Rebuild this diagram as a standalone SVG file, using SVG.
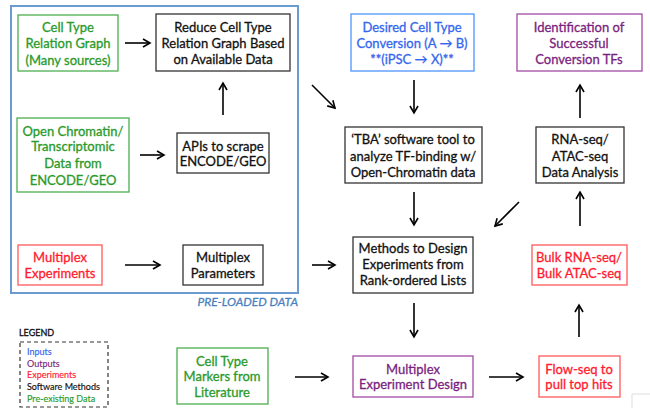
<svg xmlns="http://www.w3.org/2000/svg" width="650" height="408" viewBox="0 0 650 408">
  <style>
    .box { fill: #ffffff; stroke-width: 1.3; }
    .sw { stroke: #333333; }
    .pre { stroke: #4caf50; }
    .inp { stroke: #4d94ff; }
    .out { stroke: #a14aa6; }
    .exp { stroke: #ff5a5a; }
    text { font-family: Lato, "Open Sans", "Liberation Sans", sans-serif; font-size: 13px; text-anchor: middle; stroke-width: 0.3; }
    .tsw { fill: #111111; stroke: #111111; }
    .tpre { fill: #2a9a2a; stroke: #2a9a2a; }
    .tinp { fill: #3366ee; stroke: #3366ee; }
    .tout { fill: #7a1f80; stroke: #7a1f80; }
    .texp { fill: #ff1a2e; stroke: #ff1a2e; }
    .leg { font-size: 9px; text-anchor: start; stroke-width: 0.15; }
    .conn line { stroke: #000000; stroke-width: 1.6; marker-end: url(#ah); }
  </style>
  <defs>
    <marker id="ah" markerWidth="10" markerHeight="10" refX="8" refY="5" orient="auto" markerUnits="userSpaceOnUse">
      <path d="M1,1 L8,5 L1,9" fill="none" stroke="#000000" stroke-width="1.6"/>
    </marker>
  </defs>

  <rect width="650" height="408" fill="#ffffff"/>

  <!-- pre-loaded data container -->
  <g id="preloaded">
    <rect x="11" y="6" width="287" height="287" fill="none" stroke="#6b9bd1" stroke-width="2"/>
    <text x="298" y="306" style="font-size:12px;font-style:italic;text-anchor:end;fill:#4a7fc0;stroke:#4a7fc0">PRE-LOADED DATA</text>
  </g>

  <g id="cell-type-graph">
    <rect class="box pre" x="18" y="15" width="100" height="56"/>
    <text class="tpre" x="68" y="32">Cell Type</text>
    <text class="tpre" x="68" y="48">Relation Graph</text>
    <text class="tpre" x="68" y="65">(Many sources)</text>
  </g>

  <g id="reduce-graph">
    <rect class="box sw" x="156" y="14" width="134" height="57"/>
    <text class="tsw" x="223" y="32">Reduce Cell Type</text>
    <text class="tsw" x="223" y="48">Relation Graph Based</text>
    <text class="tsw" x="223" y="64">on Available Data</text>
  </g>

  <g id="open-chromatin">
    <rect class="box pre" x="17" y="118" width="112" height="74"/>
    <text class="tpre" x="73" y="136">Open Chromatin/</text>
    <text class="tpre" x="73" y="151">Transcriptomic</text>
    <text class="tpre" x="73" y="168">Data from</text>
    <text class="tpre" x="73" y="185">ENCODE/GEO</text>
  </g>

  <g id="apis">
    <rect class="box sw" x="177" y="133" width="92" height="40"/>
    <text class="tsw" x="223" y="151">APIs to scrape</text>
    <text class="tsw" x="223" y="166">ENCODE/GEO</text>
  </g>

  <g id="multiplex-experiments">
    <rect class="box exp" x="18" y="245" width="84" height="40"/>
    <text class="texp" x="60" y="262">Multiplex</text>
    <text class="texp" x="60" y="278">Experiments</text>
  </g>

  <g id="multiplex-parameters">
    <rect class="box sw" x="183" y="245" width="80" height="40"/>
    <text class="tsw" x="223" y="262">Multiplex</text>
    <text class="tsw" x="223" y="278">Parameters</text>
  </g>

  <g id="desired-conversion">
    <rect class="box inp" x="351" y="14" width="123" height="57"/>
    <text class="tinp" x="412" y="32">Desired Cell Type</text>
    <text class="tinp" x="412" y="48">Conversion (A → B)</text>
    <text class="tinp" x="412" y="64">**(iPSC → X)**</text>
  </g>

  <g id="identification">
    <rect class="box out" x="517" y="14" width="125" height="57"/>
    <text class="tout" x="579" y="32">Identification of</text>
    <text class="tout" x="579" y="48">Successful</text>
    <text class="tout" x="579" y="64">Conversion TFs</text>
  </g>

  <g id="tba">
    <rect class="box sw" x="345" y="127" width="137" height="56"/>
    <text class="tsw" x="413" y="144">‘TBA’ software tool to</text>
    <text class="tsw" x="413" y="161">analyze TF-binding w/</text>
    <text class="tsw" x="413" y="177">Open-Chromatin data</text>
  </g>

  <g id="rnaseq-analysis">
    <rect class="box sw" x="536" y="127" width="88" height="56"/>
    <text class="tsw" x="580" y="144">RNA-seq/</text>
    <text class="tsw" x="580" y="161">ATAC-seq</text>
    <text class="tsw" x="580" y="177">Data Analysis</text>
  </g>

  <g id="design-methods">
    <rect class="box sw" x="353" y="237" width="120" height="56"/>
    <text class="tsw" x="413" y="253">Methods to Design</text>
    <text class="tsw" x="413" y="269">Experiments from</text>
    <text class="tsw" x="413" y="285">Rank-ordered Lists</text>
  </g>

  <g id="bulk-seq">
    <rect class="box exp" x="532" y="245" width="95" height="40"/>
    <text class="texp" x="579" y="262">Bulk RNA-seq/</text>
    <text class="texp" x="579" y="278">Bulk ATAC-seq</text>
  </g>

  <g id="experiment-design">
    <rect class="box out" x="353" y="356" width="120" height="41"/>
    <text class="tout" x="413" y="374">Multiplex</text>
    <text class="tout" x="413" y="389">Experiment Design</text>
  </g>

  <g id="flow-seq">
    <rect class="box exp" x="539" y="356" width="81" height="41"/>
    <text class="texp" x="579" y="374">Flow-seq to</text>
    <text class="texp" x="579" y="389">pull top hits</text>
  </g>

  <g id="cell-markers">
    <rect class="box pre" x="177" y="348" width="91" height="56"/>
    <text class="tpre" x="222" y="366">Cell Type</text>
    <text class="tpre" x="222" y="381">Markers from</text>
    <text class="tpre" x="222" y="397">Literature</text>
  </g>

  <!-- legend -->
  <g id="legend">
    <text class="leg tsw" x="19" y="336" style="stroke-width:0.3">LEGEND</text>
    <rect x="20" y="342" width="88" height="65" fill="none" stroke="#333333" stroke-width="1.2" stroke-dasharray="4,3"/>
    <text class="leg tinp" x="27" y="355">Inputs</text>
    <text class="leg tout" x="27" y="367">Outputs</text>
    <text class="leg texp" x="27" y="378">Experiments</text>
    <text class="leg tsw" x="27" y="390">Software Methods</text>
    <text class="leg tpre" x="27" y="402">Pre-existing Data</text>
  </g>

  <!-- connectors -->
  <g class="conn" id="connectors">
    <line x1="125" y1="43" x2="150" y2="43"/>
    <line x1="223" y1="115" x2="223" y2="83"/>
    <line x1="140" y1="155" x2="164" y2="155"/>
    <line x1="125" y1="265" x2="160" y2="265"/>
    <line x1="312" y1="265" x2="335" y2="265"/>
    <line x1="312" y1="85" x2="335" y2="108"/>
    <line x1="414" y1="80" x2="414" y2="113"/>
    <line x1="580" y1="118" x2="580" y2="85"/>
    <line x1="414" y1="192" x2="414" y2="225"/>
    <line x1="519" y1="202" x2="495" y2="226"/>
    <line x1="580" y1="226" x2="580" y2="192"/>
    <line x1="414" y1="303" x2="414" y2="337"/>
    <line x1="579" y1="337" x2="579" y2="305"/>
    <line x1="489" y1="377" x2="523" y2="377"/>
    <line x1="295" y1="377" x2="328" y2="377"/>
  </g>

  <!-- faint frame corner at the lower right -->
  <path d="M632,408 V394 H650" fill="none" stroke="#dddddd" stroke-width="1"/>
</svg>
